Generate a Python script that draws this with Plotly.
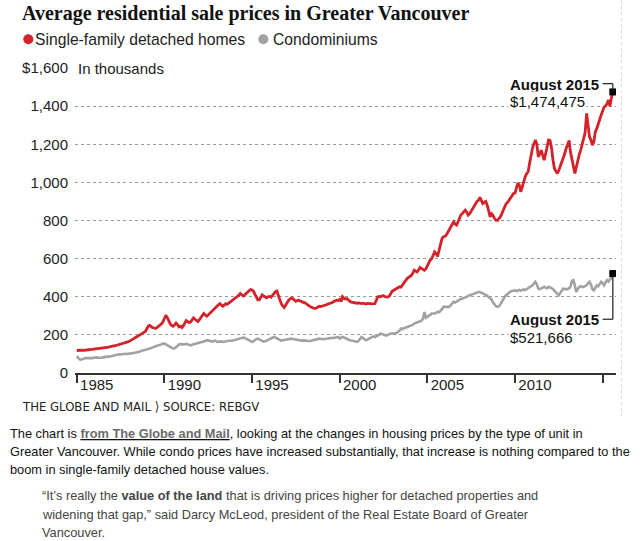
import pandas as pd
import plotly.graph_objects as go

# ---------------- data (thousands of dollars, monthly Jan 1985 - Aug 2015) ----------------
months = pd.date_range("1985-01-01", "2015-08-01", freq="MS")

detached_k = [
    118, 119, 120, 121, 120, 119, 121, 120, 122, 123, 124, 122,            # 1985
    124, 125, 126, 127, 128, 130, 131, 133, 132, 134, 136, 138,            # 1986
    139, 141, 143, 145, 147, 149, 150, 152, 155, 157, 160, 163,            # 1987
    166, 170, 175, 180, 186, 190, 194, 199, 204, 207, 210, 218,            # 1988
    232, 246, 250, 243, 238, 236, 234, 238, 244, 252, 258, 268,            # 1989
    288, 303, 292, 272, 259, 250, 245, 252, 262, 254, 242, 246,            # 1990
    238, 248, 260, 275, 270, 264, 268, 279, 289, 282, 274, 270,            # 1991
    280, 290, 302, 312, 304, 298, 304, 312, 320, 330, 338, 347,            # 1992
    352, 358, 364, 356, 350, 356, 364, 360, 366, 372, 376, 380,            # 1993
    386, 396, 402, 408, 417, 410, 404, 410, 418, 426, 432, 438,            # 1994
    436, 428, 414, 398, 384, 384, 396, 410, 404, 398, 394, 400,            # 1995
    402, 398, 405, 416, 426, 430, 408, 380, 364, 352, 344, 356,            # 1996
    370, 382, 388, 394, 390, 384, 376, 380, 382, 378, 376, 372,            # 1997
    368, 364, 358, 352, 347, 344, 340, 338, 341, 345, 350, 348,            # 1998
    350, 352, 355, 358, 362, 364, 366, 370, 375, 378, 382, 380,            # 1999
    386, 376, 400, 392, 388, 390, 380, 376, 372, 370, 368, 367,            # 2000
    366, 368, 365, 364, 366, 363, 362, 365, 366, 364, 363, 364,            # 2001
    364, 380, 399, 402, 400, 404, 406, 400, 398, 398, 404, 416,            # 2002
    430, 434, 438, 444, 446, 452, 450, 462, 476, 487, 494, 500,            # 2003
    504, 512, 522, 539, 535, 530, 540, 553, 548, 544, 539, 546,            # 2004
    562, 583, 592, 600, 620, 635, 626, 612, 642, 680, 705, 715,            # 2005
    716, 724, 736, 749, 760, 776, 793, 782, 776, 792, 812, 830,            # 2006
    837, 846, 854, 845, 828, 836, 850, 862, 876, 890, 900, 906,            # 2007
    921, 905, 889, 896, 900, 880, 850, 819, 835, 826, 810, 801,            # 2008
    801, 810, 819, 836, 854, 870, 889, 896, 907, 916, 926, 942,            # 2009
    944, 970, 997, 986, 951, 976, 1010, 1029, 1046, 1055, 1100, 1152,      # 2010
    1180, 1204, 1222, 1200, 1134, 1150, 1169, 1142, 1117, 1150, 1190, 1222,  # 2011
    1220, 1180, 1120, 1073, 1060, 1047, 1062, 1082, 1104, 1125, 1150, 1178,  # 2012
    1200, 1220, 1160, 1117, 1072, 1047, 1080, 1117, 1146, 1169, 1196, 1222,  # 2013
    1262, 1362, 1292, 1240, 1222, 1195, 1212, 1265, 1283, 1302, 1330, 1353,  # 2014
    1372, 1396, 1400, 1412, 1432, 1400, 1442, 1474.475,                    # 2015
]

condo_k = [
    88, 80, 72, 70, 74, 76, 78, 78, 80, 79, 78, 80,                        # 1985
    80, 81, 82, 80, 78, 80, 82, 84, 85, 86, 85, 87,                        # 1986
    88, 90, 92, 93, 95, 98, 97, 99, 100, 101, 100, 102,                    # 1987
    102, 103, 104, 105, 106, 108, 110, 112, 115, 118, 120, 124,            # 1988
    124, 126, 128, 130, 133, 137, 140, 142, 145, 148, 150, 154,            # 1989
    154, 150, 145, 140, 137, 132, 128, 130, 135, 142, 150, 152,            # 1990
    150, 148, 150, 153, 150, 147, 145, 148, 150, 152, 155, 158,            # 1991
    158, 160, 163, 165, 168, 172, 170, 166, 163, 165, 168, 170,            # 1992
    163, 165, 168, 166, 163, 165, 168, 170, 172, 170, 168, 170,            # 1993
    172, 175, 174, 176, 180, 183, 186, 184, 180, 176, 170, 168,            # 1994
    163, 166, 172, 178, 180, 176, 172, 168, 164, 166, 170, 174,            # 1995
    176, 180, 184, 189, 186, 182, 176, 172, 170, 172, 174, 176,            # 1996
    178, 180, 181, 180, 178, 176, 175, 174, 172, 172, 170, 171,            # 1997
    172, 170, 168, 167, 168, 170, 172, 175, 178, 180, 180, 178,            # 1998
    178, 176, 178, 180, 182, 180, 183, 185, 184, 186, 188, 189,            # 1999
    180, 184, 189, 186, 182, 180, 176, 172, 170, 168, 166, 163,            # 2000
    163, 170, 180, 189, 184, 176, 172, 175, 180, 186, 189, 192,            # 2001
    189, 192, 196, 200, 207, 204, 200, 198, 196, 200, 204, 207,            # 2002
    207, 206, 208, 210, 215, 222, 233, 230, 235, 238, 241, 241,            # 2003
    243, 248, 252, 259, 262, 265, 268, 270, 275, 285, 320, 290,            # 2004
    294, 298, 305, 312, 310, 312, 315, 320, 318, 325, 335, 347,            # 2005
    347, 345, 348, 347, 355, 362, 373, 370, 376, 380, 385, 388,            # 2006
    390, 392, 395, 399, 405, 408, 412, 415, 418, 420, 423, 425,            # 2007
    425, 422, 420, 415, 410, 405, 398, 392, 385, 370, 360, 350,            # 2008
    347, 350, 360, 375, 390, 400, 408, 415, 425, 428, 430, 434,            # 2009
    434, 430, 434, 436, 432, 434, 438, 435, 440, 445, 448, 452,            # 2010
    460, 470, 478, 465, 443, 440, 445, 450, 452, 448, 445, 452,            # 2011
    450, 445, 440, 430, 420, 415, 408, 420, 430, 443, 440, 438,            # 2012
    440, 445, 452, 483, 487, 460, 425, 440, 452, 455, 450, 452,            # 2013
    455, 460, 470, 478, 465, 440, 434, 445, 460, 455, 470, 478,            # 2014
    470, 460, 475, 487, 480, 490, 500, 521.666,                            # 2015
]

series_names = ["Single-family detached homes", "Condominiums"]
y_tick_vals = [0, 200, 400, 600, 800, 1000, 1200, 1400, 1600]
y_tick_text = ["0", "200", "400", "600", "800", "1,000", "1,200", "1,400", "$1,600"]
x_tick_vals = ["1985-01-01", "1990-01-01", "1995-01-01", "2000-01-01",
               "2005-01-01", "2010-01-01", "2015-01-01"]
x_tick_text = ["1985", "1990", "1995", "2000", "2005", "2010", ""]

title_text = "Average residential sale prices in Greater Vancouver"
source_text = "THE GLOBE AND MAIL \u27e9 SOURCE: REBGV"
body_lines = [
    "The chart is <b><u><span style='color:#6a6a6a'>from The Globe and Mail</span></u></b>, "
    "looking at the changes in housing prices by the type of unit in",
    "Greater Vancouver. While condo prices have increased substantially, that increase is nothing compared to the",
    "boom in single-family detached house values.",
]
quote_lines = [
    "\u201cIt\u2019s really the <b>value of the land</b> that is driving prices higher for detached properties and",
    "widening that gap,\u201d said Darcy McLeod, president of the Real Estate Board of Greater",
    "Vancouver.",
]

# ---------------- styling / geometry ----------------
RED = "#d3222a"
GRAY = "#a2a2a2"
INK = "#1c1c1c"
SANS = "Liberation Sans, Arial, sans-serif"
NARROW = "Liberation Sans Narrow, Arial Narrow, DejaVu Sans Condensed, sans-serif"
SERIF = "Liberation Serif, Times New Roman, serif"

W, H = 640, 541
L, R, T, B = 75, 24, 68, 168
PW, PH = W - L - R, H - T - B


def px(x):
    return (x - L) / PW


def py(y):
    return (H - B - y) / PH


fig = go.Figure()
fig.add_trace(go.Scatter(x=months, y=condo_k, mode="lines", name=series_names[1],
                         line=dict(color=GRAY, width=2.6), showlegend=False))
fig.add_trace(go.Scatter(x=months, y=detached_k, mode="lines", name=series_names[0],
                         line=dict(color=RED, width=2.8), showlegend=False))
fig.add_trace(go.Scatter(x=[months[-1], months[-1]], y=[detached_k[-1], condo_k[-1]],
                         mode="markers", marker=dict(symbol="square", size=7, color="#000"),
                         showlegend=False, hoverinfo="skip"))

last = months[-1].strftime("%Y-%m-%d")
bend_x = "2015-01-01"
shapes = [
    dict(type="line", xref="x", yref="y", x0=bend_x, x1=last, y0=1518, y1=1518,
         line=dict(color=INK, width=1.2)),
    dict(type="line", xref="x", yref="y", x0=last, x1=last, y0=1518, y1=detached_k[-1],
         line=dict(color=INK, width=1.2)),
    dict(type="line", xref="x", yref="y", x0=last, x1=last, y0=condo_k[-1], y1=282,
         line=dict(color=INK, width=1.2)),
    dict(type="line", xref="x", yref="y", x0=bend_x, x1=last, y0=282, y1=282,
         line=dict(color=INK, width=1.2)),
    # legend dots
    dict(type="circle", xref="paper", yref="paper", x0=px(23.3), x1=px(33.3),
         y0=py(44.3), y1=py(34.3), fillcolor=RED, line=dict(width=0)),
    dict(type="circle", xref="paper", yref="paper", x0=px(258.3), x1=px(268.3),
         y0=py(44.3), y1=py(34.3), fillcolor=GRAY, line=dict(width=0)),
    # faint page border
    dict(type="line", xref="paper", yref="paper", x0=px(621.5), x1=px(621.5),
         y0=py(0), y1=py(416), line=dict(color="#d8d8d8", width=1, dash="dot")),
]

ann = []


def text(x, y, t, size, family=SANS, color=INK, bg=None, pad=0):
    d = dict(xref="paper", yref="paper", x=px(x), y=py(y), text=t, showarrow=False,
             xanchor="left", yanchor="middle", align="left", borderpad=pad,
             font=dict(family=family, size=size, color=color))
    if bg:
        d["bgcolor"] = bg
    ann.append(d)


text(20.5, 13.5, "<b>" + title_text + "</b>", 20, SERIF, "#111")
text(34, 39.5, series_names[0], 15.7, SANS, "#222")
text(272, 39.5, series_names[1], 15.7, SANS, "#222")
text(74.5, 68, "In thousands", 15, SANS, "#222", bg="white", pad=2)
text(508, 84, "<b>August 2015</b>", 15, SANS, "#111", bg="white", pad=1)
text(508, 101.5, "$1,474,475", 15, SANS, "#111", bg="white", pad=1)
text(508, 319, "<b>August 2015</b>", 15, SANS, "#111", bg="white", pad=1)
text(508, 337, "$521,666", 15, SANS, "#111", bg="white", pad=1)
text(20.5, 406, source_text, 13, NARROW, "#222")
for i, ln in enumerate(body_lines):
    text(9, 433 + 18 * i, ln, 12.8, SANS, "#111")
for i, ln in enumerate(quote_lines):
    text(41, 496 + 18 * i, ln, 12.8, SANS, "#444")

fig.update_layout(
    width=W, height=H, autosize=False,
    margin=dict(l=L, r=R, t=T, b=B, pad=0),
    paper_bgcolor="white", plot_bgcolor="white",
    shapes=shapes, annotations=ann,
    xaxis=dict(type="date", range=["1984-11-26", "2015-10-06"],
               tickvals=x_tick_vals, ticktext=x_tick_text,
               ticks="outside", ticklen=8, tickwidth=1.5, tickcolor="#333",
               showline=True, linecolor="#333", linewidth=1.5,
               showgrid=False, zeroline=False,
               ticklabelshift=20, ticklabelstandoff=-11,
               tickfont=dict(family=SANS, size=15, color="#222")),
    yaxis=dict(range=[0, 1600], tickvals=y_tick_vals, ticktext=y_tick_text,
               showgrid=True, gridcolor="#9a9a9a", griddash="dot", gridwidth=1,
               zeroline=False, showline=False, ticks="", ticklabelstandoff=6,
               tickfont=dict(family=SANS, size=15, color="#222")),
)

fig.write_html(
    "out.html",
    config={"displayModeBar": False},
    post_script="document.body.style.margin='0';document.body.style.overflow='hidden';",
)
